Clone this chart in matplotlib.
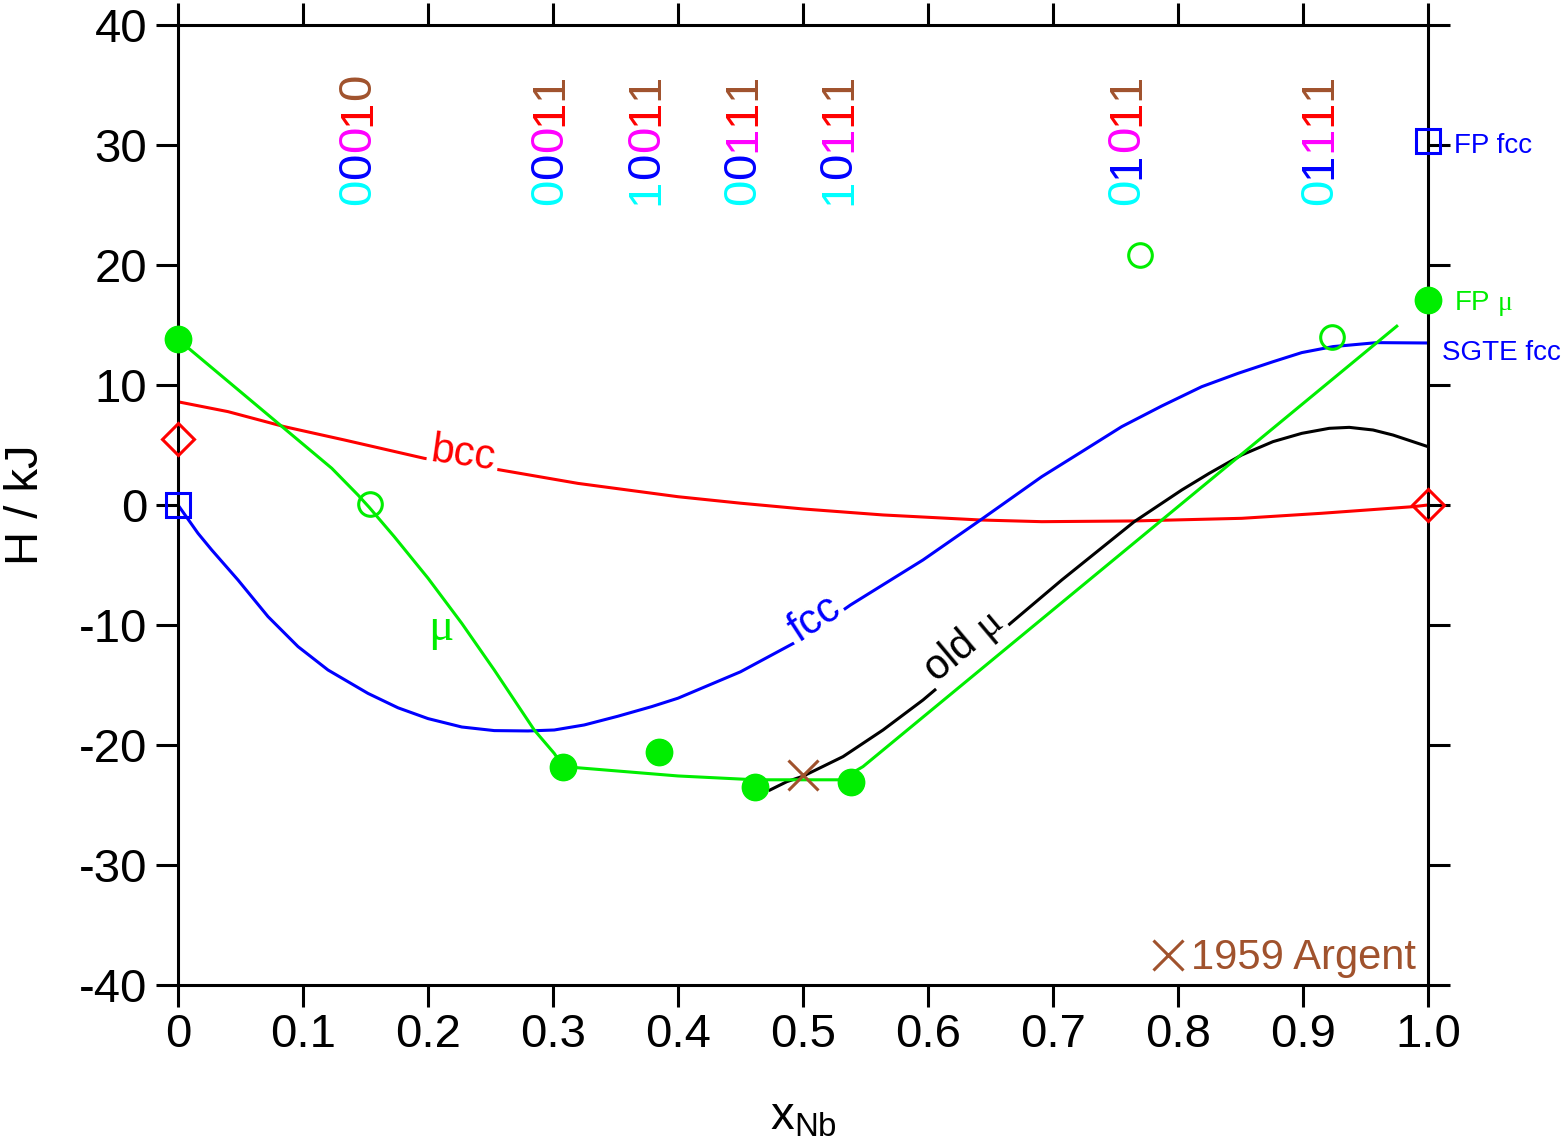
import matplotlib
matplotlib.use("Agg")
import matplotlib.pyplot as plt

plt.rcParams['font.family'] = ['Liberation Sans', 'DejaVu Sans']
plt.rcParams['axes.unicode_minus'] = False
plt.rcParams['mathtext.fontset'] = 'custom'
plt.rcParams['mathtext.rm'] = 'Liberation Serif'

BROWN = '#A0522D'
GREEN = '#00EE00'

# bcc (red)
bcc_x = [0, 0.04, 0.085, 0.133, 0.197, 0.255, 0.32, 0.4, 0.45, 0.5, 0.564, 0.642, 0.691,
         0.765, 0.851, 0.915, 0.988, 1.0]
bcc_y = [8.6, 7.78, 6.53, 5.42, 3.89, 2.97, 1.8, 0.69, 0.15, -0.33, -0.83, -1.25, -1.39,
         -1.33, -1.11, -0.69, -0.14, 0.0]

# fcc (blue)
fcc_x = [0, 0.016, 0.027, 0.048, 0.072, 0.096, 0.12, 0.152, 0.176, 0.2, 0.227, 0.253, 0.28,
         0.301, 0.325, 0.352, 0.379, 0.4, 0.45, 0.5, 0.538, 0.596, 0.642, 0.691, 0.723, 0.755,
         0.787, 0.819, 0.848, 0.876, 0.899, 0.924, 0.959, 1.0]
fcc_y = [0, -2.36, -3.75, -6.25, -9.3, -11.8, -13.75, -15.7, -16.9, -17.8, -18.5, -18.8, -18.83,
         -18.75, -18.33, -17.6, -16.8, -16.1, -13.9, -11.1, -8.33, -4.58, -1.25, 2.36, 4.44, 6.53,
         8.25, 9.86, 10.97, 11.94, 12.7, 13.2, 13.53, 13.5]

# old mu (black)
old_x = [0.4736, 0.487, 0.5, 0.532, 0.564, 0.596, 0.615, 0.666, 0.707, 0.765, 0.803, 0.825,
         0.851, 0.876, 0.899, 0.921, 0.937, 0.956, 0.972, 1.0]
old_y = [-23.75, -23.06, -22.6, -20.97, -18.75, -16.25, -14.58, -9.86, -6.25, -1.39, 1.25, 2.64,
         4.17, 5.28, 5.97, 6.39, 6.47, 6.25, 5.83, 4.86]

# mu (green) curve
mu_x = [0, 0.123, 0.144, 0.153, 0.173, 0.2, 0.227, 0.253, 0.285, 0.301, 0.308, 0.325, 0.4,
        0.462, 0.53, 0.548, 0.975]
mu_y = [13.8, 3.06, 0.83, -0.2, -2.64, -6.1, -9.86, -13.75, -18.75, -20.7, -21.8, -21.94, -22.58,
        -22.9, -22.9, -21.8, 14.9]

# mu calculated points
mu_fill_x = [0, 4/13, 5/13, 6/13, 7/13, 1.0]
mu_fill_y = [13.8, -21.8, -20.6, -23.5, -23.1, 17.1]
mu_open_x = [2/13, 10/13, 12/13]
mu_open_y = [0.1, 20.8, 14.0]

# end members
fcc_pt_x = [0, 1.0]
fcc_pt_y = [0, 30.3]
bcc_pt_x = [0, 1.0]
bcc_pt_y = [5.5, 0]

argent_x = [0.5]
argent_y = [-22.5]

# site occupation labels
code_x = [2/13, 4/13, 5/13, 6/13, 7/13, 10/13, 12/13]
codes = ['00010', '00011', '10011', '00111', '10111', '01011', '01111']
code_colors = ['cyan', 'blue', 'magenta', 'red', BROWN]

xticks = [0, 0.1, 0.2, 0.3, 0.4, 0.5, 0.6, 0.7, 0.8, 0.9, 1.0]
xticklabels = ['0', '0.1', '0.2', '0.3', '0.4', '0.5', '0.6', '0.7', '0.8', '0.9', '1.0']
yticks = [-40, -30, -20, -10, 0, 10, 20, 30, 40]

fig = plt.figure(figsize=(15.62, 11.48), dpi=100)
ax = fig.add_axes([0.11396, 0.14199, 0.80026, 0.83624])

lw = 2.2
ax.plot(bcc_x, bcc_y, color='red', lw=lw, zorder=2)
ax.plot(fcc_x, fcc_y, color='blue', lw=lw, zorder=2)
ax.plot(old_x, old_y, color='black', lw=lw, zorder=2)
ax.plot(mu_x, mu_y, color=GREEN, lw=lw, zorder=3.5)

ax.plot(mu_fill_x, mu_fill_y, 'o', color=GREEN, ms=19, ls='none', clip_on=False, zorder=4)
ax.plot(mu_open_x, mu_open_y, 'o', mfc='none', mec=GREEN, mew=2.2, ms=17, ls='none', clip_on=False, zorder=4)
ax.plot(fcc_pt_x, fcc_pt_y, 's', mfc='none', mec='blue', mew=2.2, ms=17, ls='none', clip_on=False, zorder=4)
ax.plot(bcc_pt_x, bcc_pt_y, 'D', mfc='none', mec='red', mew=2.2, ms=16, ls='none', clip_on=False, zorder=4)
argent, = ax.plot(argent_x, argent_y, 'x', color=BROWN, ms=22, mew=2.2, ls='none', zorder=4)

# stacked, coloured occupation codes (first digit at the bottom)
fs_code = 34
adv = 0.556 * fs_code
for xc, code in zip(code_x, codes):
    for i, ch in enumerate(code):
        ax.annotate(ch, xy=(xc, 25), xycoords='data', xytext=(0, i * adv),
                    textcoords='offset points', rotation=90, rotation_mode='anchor',
                    ha='left', va='baseline', fontsize=fs_code, color=code_colors[i])

# inline curve labels
box = dict(boxstyle='square,pad=0.08', fc='white', ec='none')
ax.text(0.227, 3.3, 'bcc', color='red', fontsize=30, rotation=-8, rotation_mode='anchor',
        ha='center', va='baseline', bbox=box, zorder=3)
ax.text(0.514, -10.3, 'fcc', color='blue', fontsize=30, rotation=33, rotation_mode='anchor',
        ha='center', va='baseline', bbox=box, zorder=3)
ax.text(0.634, -12.5, r'old $\mathrm{\mu}$', color='black', fontsize=30, rotation=40,
        rotation_mode='anchor', ha='center', va='baseline', bbox=box, zorder=3)
ax.text(0.21, -10.4, r'$\mathrm{\mu}$', color=GREEN, fontsize=34, ha='center', va='center')

# right side labels
ax.annotate('FP fcc', xy=(1.0, 30.3), xytext=(19, -3), textcoords='offset points',
            color='blue', fontsize=20, va='center', annotation_clip=False)
ax.annotate(r'FP $\mathrm{\mu}$', xy=(1.0, 17.1), xytext=(19, -3), textcoords='offset points',
            color=GREEN, fontsize=20, va='center', annotation_clip=False)
ax.annotate('SGTE fcc', xy=(1.0, 13.0), xytext=(10, -3), textcoords='offset points',
            color='blue', fontsize=20, va='center', annotation_clip=False)

ax.legend([argent], ['1959 Argent'], loc='lower right', bbox_to_anchor=(0.992, 0.005),
          frameon=False, fontsize=30, labelcolor=BROWN, handlelength=0.8, handletextpad=0.15,
          borderaxespad=0.0, borderpad=0.05, numpoints=1)

ax.set_xlim(0, 1)
ax.set_ylim(-40, 40)
ax.set_xticks(xticks)
ax.set_xticklabels(xticklabels)
ax.set_yticks(yticks)
ax.tick_params(axis='both', which='both', direction='out', length=16, width=2.2,
               labelsize=34, top=True, right=True)
ax.tick_params(axis='x', pad=4)
ax.tick_params(axis='y', pad=6)
for s in ax.spines.values():
    s.set_linewidth(2.2)

ax.set_xlabel(r'$\mathregular{x_{Nb}}$', fontsize=34, labelpad=28)
ax.set_ylabel('H / kJ', fontsize=34, labelpad=22)

fig.savefig('out.png', dpi=100)
